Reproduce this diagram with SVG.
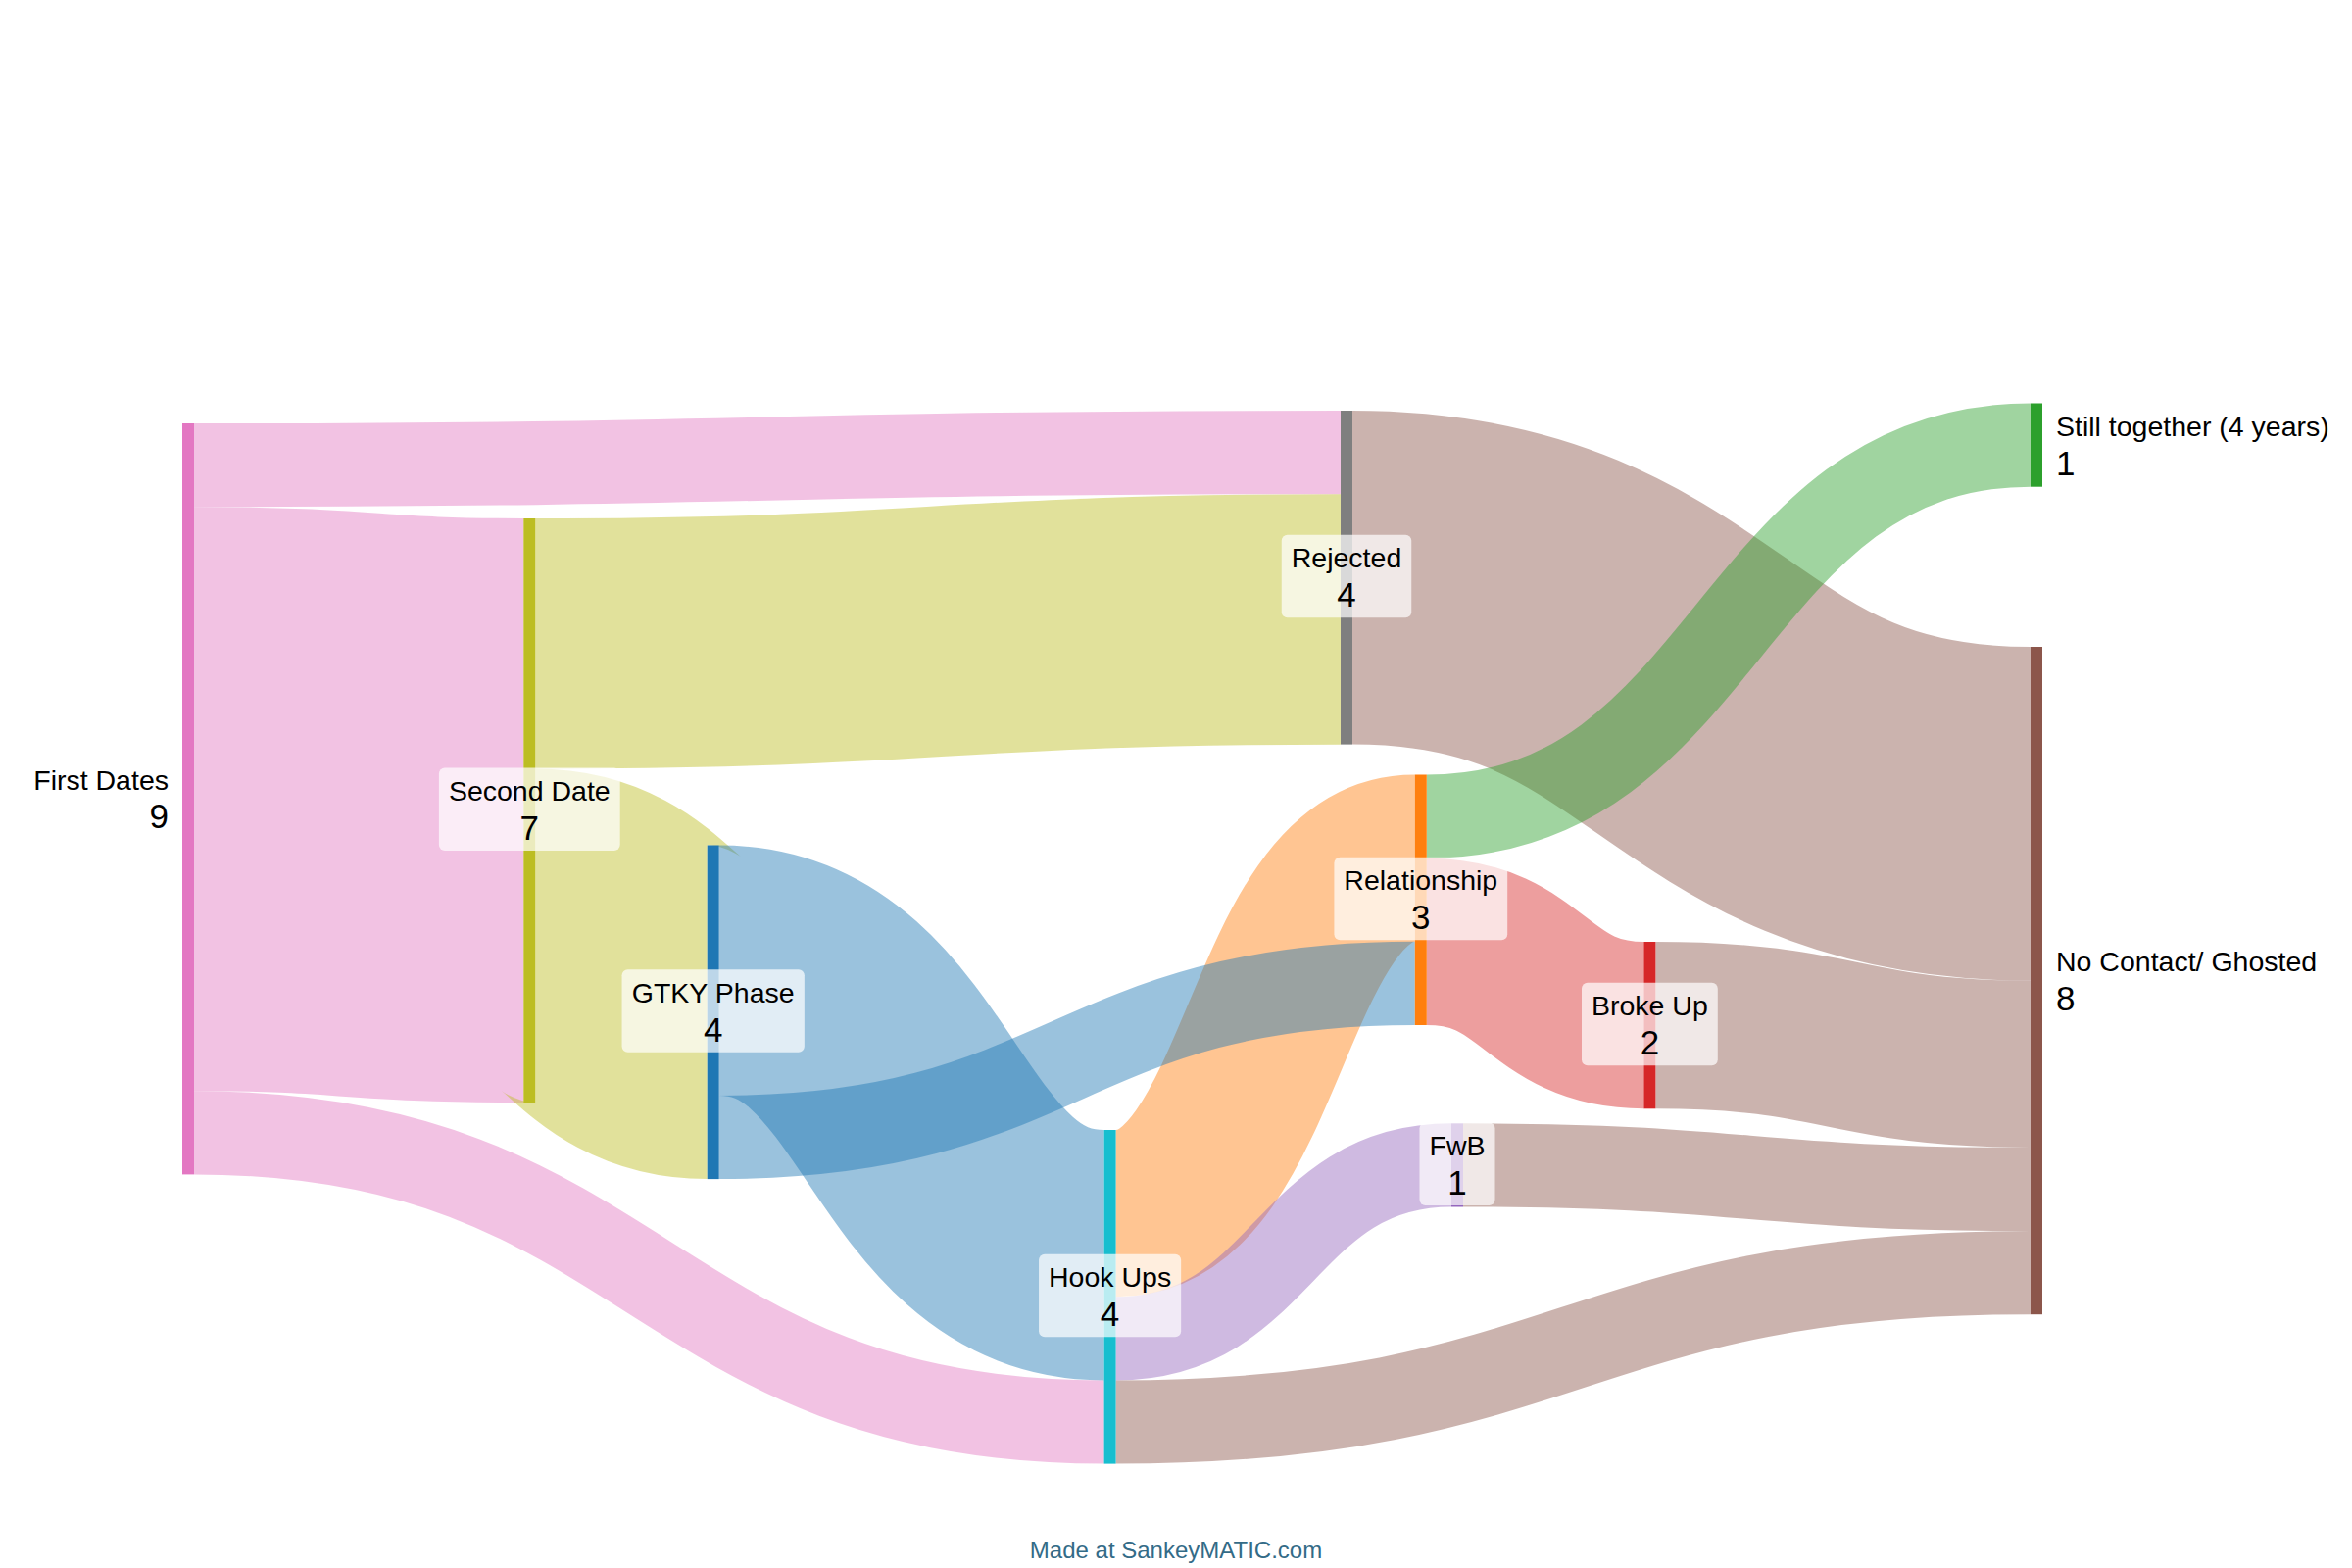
<svg xmlns="http://www.w3.org/2000/svg" width="2400" height="1600" viewBox="0 0 2400 1600">
<style>
.lk{fill:none;stroke-opacity:0.45}
.pink{stroke:#e377c2}.olive{stroke:#bcbd22}.blue{stroke:#1f77b4}.orange{stroke:#ff7f0e}
.purple{stroke:#9467bd}.brown{stroke:#8c564b}.green{stroke:#2ca02c}.red{stroke:#d62728}
.nm{font-family:"Liberation Sans",Arial,Helvetica,sans-serif;font-size:28.5px;fill:#000}
.vl{font-family:"Liberation Sans",Arial,Helvetica,sans-serif;font-size:35px;fill:#000}
.c{text-anchor:middle}.e{text-anchor:end}.s{text-anchor:start}
.hl{fill:#fff;fill-opacity:0.7}
</style>
<rect width="2400" height="1600" fill="#fff"/>
<g id="connectors">
<path class="lk pink" stroke-width="85.15" d="M198,474.6C783,474.6 783,461.6 1368,461.6"/>
<path class="lk pink" stroke-width="596.05" d="M198,815.2C366.15,815.2 366.15,827 534.3,827"/>
<path class="lk pink" stroke-width="85.15" d="M198,1155.8C662.3,1155.8 662.3,1451 1126.6,1451"/>
<path class="lk olive" stroke-width="255.45" d="M546.3,656.7C957.15,656.7 957.15,631.9 1368,631.9"/>
<path class="lk olive" stroke-width="340.6" d="M546.3,954.7C634,954.7 634,1032.8 721.7,1032.8"/>
<path class="lk orange" stroke-width="170.3" d="M1138.6,1238.15C1291.2,1238.15 1291.2,875.65 1443.8,875.65"/>
<path class="lk blue" stroke-width="255.45" d="M733.7,990.2C930.15,990.2 930.15,1280.7 1126.6,1280.7"/>
<path class="lk blue" stroke-width="85.15" d="M733.7,1160.5C1088.75,1160.5 1088.75,1003.4 1443.8,1003.4"/>
<path class="lk purple" stroke-width="85.15" d="M1138.6,1365.9C1309.8,1365.9 1309.8,1188.9 1481,1188.9"/>
<path class="lk brown" stroke-width="85.15" d="M1138.6,1451C1605.3,1451 1605.3,1298.6 2072,1298.6"/>
<path class="lk brown" stroke-width="340.6" d="M1380,589.3C1726,589.3 1726,830.3 2072,830.3"/>
<path class="lk green" stroke-width="85.15" d="M1455.8,833.1C1763.9,833.1 1763.9,454.1 2072,454.1"/>
<path class="lk red" stroke-width="170.3" d="M1455.8,960.8C1566.6,960.8 1566.6,1046.15 1677.4,1046.15"/>
<path class="lk brown" stroke-width="170.3" d="M1689.4,1046.15C1880.7,1046.15 1880.7,1085.75 2072,1085.75"/>
<path class="lk brown" stroke-width="85.15" d="M1493,1188.9C1782.5,1188.9 1782.5,1213.5 2072,1213.5"/>
</g>
<g id="node-first-dates">
<rect x="186" y="432" width="12" height="766.4" fill="#e377c2"/>
<text class="nm e" x="172" y="805.5">First Dates</text>
<text class="vl e" x="172" y="845">9</text>
</g>
<g id="node-second-date">
<rect x="534.3" y="529" width="12" height="596" fill="#bcbd22"/>
<rect class="hl" x="447.9" y="783.5" width="184.8" height="84.5" rx="6"/>
<text class="nm c" x="540.3" y="817">Second Date</text>
<text class="vl c" x="540.3" y="857">7</text>
</g>
<g id="node-gtky-phase">
<rect x="721.7" y="862.5" width="12" height="340.6" fill="#1f77b4"/>
<rect class="hl" x="634.55" y="989.3" width="186.3" height="84.5" rx="6"/>
<text class="nm c" x="727.7" y="1022.8">GTKY Phase</text>
<text class="vl c" x="727.7" y="1062.8">4</text>
</g>
<g id="node-hook-ups">
<rect x="1126.6" y="1153" width="12" height="340.6" fill="#17becf"/>
<rect class="hl" x="1060.05" y="1279.8" width="145.1" height="84.5" rx="6"/>
<text class="nm c" x="1132.6" y="1313.3">Hook Ups</text>
<text class="vl c" x="1132.6" y="1353.3">4</text>
</g>
<g id="node-rejected">
<rect x="1368" y="419" width="12" height="340.6" fill="#7f7f7f"/>
<rect class="hl" x="1307.75" y="545.8" width="132.5" height="84.5" rx="6"/>
<text class="nm c" x="1374" y="579.3">Rejected</text>
<text class="vl c" x="1374" y="619.3">4</text>
</g>
<g id="node-relationship">
<rect x="1443.8" y="790.5" width="12" height="255.5" fill="#ff7f0e"/>
<rect class="hl" x="1361.4" y="874.75" width="176.8" height="84.5" rx="6"/>
<text class="nm c" x="1449.8" y="908.25">Relationship</text>
<text class="vl c" x="1449.8" y="948.25">3</text>
</g>
<g id="node-fwb">
<rect x="1481" y="1146.3" width="12" height="85.2" fill="#9467bd"/>
<rect class="hl" x="1448.5" y="1145.4" width="77" height="84.5" rx="6"/>
<text class="nm c" x="1487" y="1178.9">FwB</text>
<text class="vl c" x="1487" y="1218.9">1</text>
</g>
<g id="node-broke-up">
<rect x="1677.4" y="961" width="12" height="170.3" fill="#d62728"/>
<rect class="hl" x="1614" y="1002.65" width="138.8" height="84.5" rx="6"/>
<text class="nm c" x="1683.4" y="1036.15">Broke Up</text>
<text class="vl c" x="1683.4" y="1076.15">2</text>
</g>
<g id="node-still-together">
<rect x="2072" y="411.5" width="12" height="85.2" fill="#2ca02c"/>
<text class="nm s" x="2098" y="445">Still together (4 years)</text>
<text class="vl s" x="2098" y="484.5">1</text>
</g>
<g id="node-no-contact">
<rect x="2072" y="660" width="12" height="681.2" fill="#8c564b"/>
<text class="nm s" x="2098" y="990.6">No Contact/ Ghosted</text>
<text class="vl s" x="2098" y="1030.6">8</text>
</g>
<text x="1200" y="1590" text-anchor="middle" font-family="'Liberation Sans',Arial,sans-serif" font-size="24" fill="#336b87">Made at SankeyMATIC.com</text>
</svg>
